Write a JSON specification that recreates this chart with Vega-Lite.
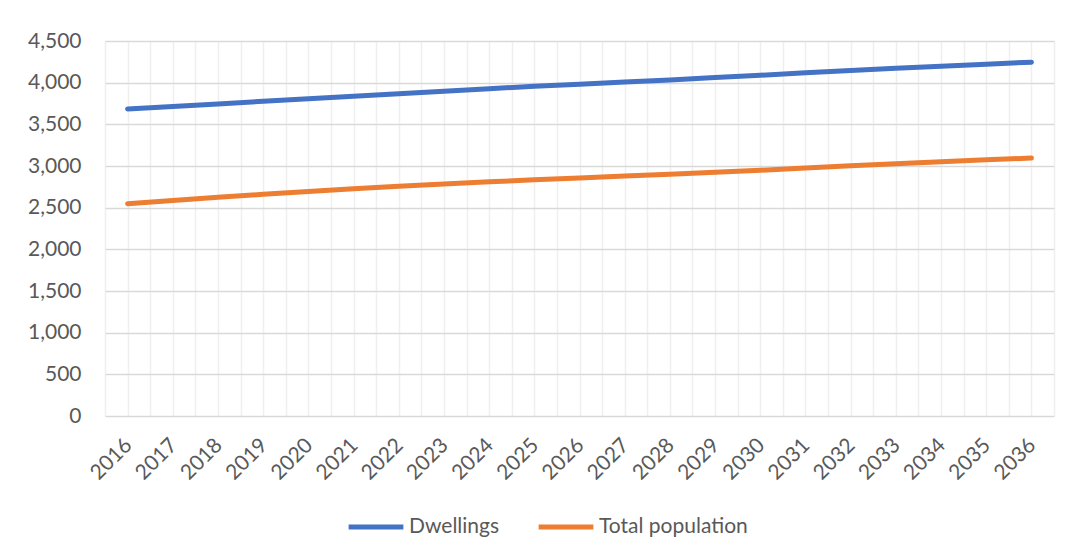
{
  "$schema": "https://vega.github.io/schema/vega-lite/v6.json",
  "autosize": {"type": "none"},
  "width": 949,
  "height": 375,
  "padding": {"left": 105, "top": 41, "right": 17, "bottom": 141},
  "background": "white",
  "config": {
    "view": {"stroke": null},
    "font": "Lato",
    "axis": {"labelFont": "Lato", "labelColor": "#595959", "labelFontSize": 21, "ticks": false, "domain": false},
    "legend": {"labelFont": "Lato", "labelColor": "#595959", "labelFontSize": 21}
  },
  "data": {
    "values": [
      {"year": 2016, "series": "Dwellings", "value": 3685},
      {"year": 2017, "series": "Dwellings", "value": 3715},
      {"year": 2018, "series": "Dwellings", "value": 3745},
      {"year": 2019, "series": "Dwellings", "value": 3777},
      {"year": 2020, "series": "Dwellings", "value": 3808},
      {"year": 2021, "series": "Dwellings", "value": 3838},
      {"year": 2022, "series": "Dwellings", "value": 3868},
      {"year": 2023, "series": "Dwellings", "value": 3898},
      {"year": 2024, "series": "Dwellings", "value": 3928},
      {"year": 2025, "series": "Dwellings", "value": 3956},
      {"year": 2026, "series": "Dwellings", "value": 3982},
      {"year": 2027, "series": "Dwellings", "value": 4008},
      {"year": 2028, "series": "Dwellings", "value": 4033},
      {"year": 2029, "series": "Dwellings", "value": 4061},
      {"year": 2030, "series": "Dwellings", "value": 4089},
      {"year": 2031, "series": "Dwellings", "value": 4119},
      {"year": 2032, "series": "Dwellings", "value": 4147},
      {"year": 2033, "series": "Dwellings", "value": 4172},
      {"year": 2034, "series": "Dwellings", "value": 4197},
      {"year": 2035, "series": "Dwellings", "value": 4222},
      {"year": 2036, "series": "Dwellings", "value": 4246},
      {"year": 2016, "series": "Total population", "value": 2548},
      {"year": 2017, "series": "Total population", "value": 2586},
      {"year": 2018, "series": "Total population", "value": 2624},
      {"year": 2019, "series": "Total population", "value": 2660},
      {"year": 2020, "series": "Total population", "value": 2695},
      {"year": 2021, "series": "Total population", "value": 2727},
      {"year": 2022, "series": "Total population", "value": 2758},
      {"year": 2023, "series": "Total population", "value": 2784},
      {"year": 2024, "series": "Total population", "value": 2810},
      {"year": 2025, "series": "Total population", "value": 2834},
      {"year": 2026, "series": "Total population", "value": 2857},
      {"year": 2027, "series": "Total population", "value": 2879},
      {"year": 2028, "series": "Total population", "value": 2901},
      {"year": 2029, "series": "Total population", "value": 2925},
      {"year": 2030, "series": "Total population", "value": 2949},
      {"year": 2031, "series": "Total population", "value": 2977},
      {"year": 2032, "series": "Total population", "value": 3003},
      {"year": 2033, "series": "Total population", "value": 3028},
      {"year": 2034, "series": "Total population", "value": 3052},
      {"year": 2035, "series": "Total population", "value": 3074},
      {"year": 2036, "series": "Total population", "value": 3095}
    ]
  },
  "mark": {"type": "line", "strokeWidth": 5, "strokeCap": "round", "strokeJoin": "round"},
  "encoding": {
    "x": {
      "field": "year",
      "type": "quantitative",
      "scale": {"domain": [2015.5, 2036.5], "nice": false, "zero": false},
      "axis": {
        "title": null,
        "values": [2015.5, 2016, 2016.5, 2017, 2017.5, 2018, 2018.5, 2019, 2019.5, 2020, 2020.5, 2021, 2021.5, 2022, 2022.5, 2023, 2023.5, 2024, 2024.5, 2025, 2025.5, 2026, 2026.5, 2027, 2027.5, 2028, 2028.5, 2029, 2029.5, 2030, 2030.5, 2031, 2031.5, 2032, 2032.5, 2033, 2033.5, 2034, 2034.5, 2035, 2035.5, 2036, 2036.5],
        "labelExpr": "datum.value % 1 == 0 ? format(datum.value, 'd') : ''",
        "labelAngle": -45,
        "labelPadding": 18,
        "labelOffset": -7,
        "labelOverlap": false,
        "labelBound": false,
        "grid": true,
        "gridColor": "#efefef",
        "gridWidth": 1.5
      }
    },
    "y": {
      "field": "value",
      "type": "quantitative",
      "scale": {"domain": [0, 4500], "nice": false},
      "axis": {
        "title": null,
        "values": [0, 500, 1000, 1500, 2000, 2500, 3000, 3500, 4000, 4500],
        "format": ",d",
        "labelPadding": 24,
        "grid": true,
        "gridColor": "#d9d9d9",
        "gridWidth": 1.5
      }
    },
    "color": {
      "field": "series",
      "type": "nominal",
      "scale": {"domain": ["Dwellings", "Total population"], "range": ["#4472C4", "#ED7D31"]},
      "legend": {
        "title": null,
        "orient": "none",
        "direction": "horizontal",
        "legendX": 241,
        "legendY": 456,
        "symbolType": "stroke",
        "symbolSize": 3000,
        "symbolStrokeWidth": 5,
        "labelOffset": 3,
        "columnPadding": 28
      }
    }
  }
}
